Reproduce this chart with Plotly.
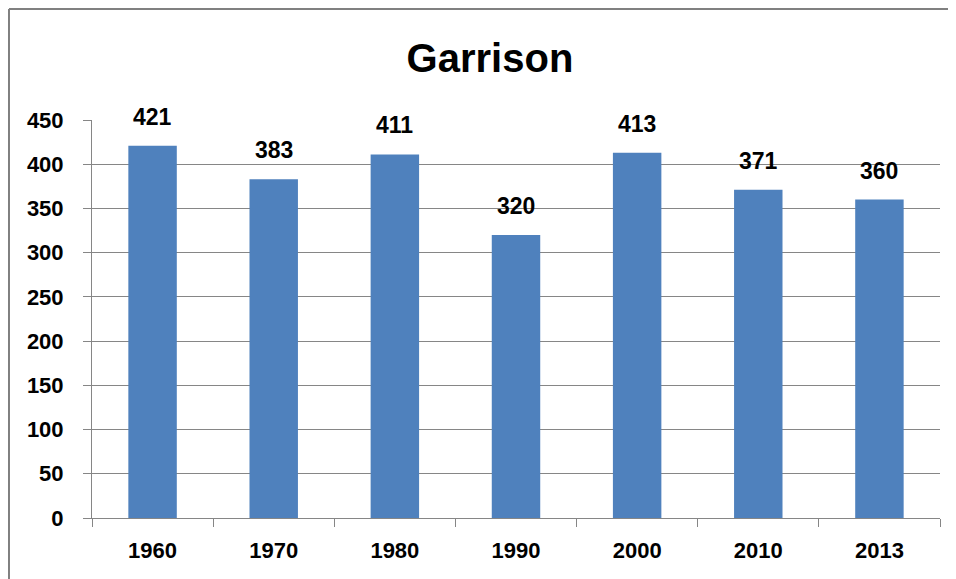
import plotly.graph_objects as go

# Garrison population by census year
years = ["1960", "1970", "1980", "1990", "2000", "2010", "2013"]
population = [421, 383, 411, 320, 413, 371, 360]
y_ticks = [0, 50, 100, 150, 200, 250, 300, 350, 400, 450]

font_name = "Liberation Sans"
grey = "#868686"

fig = go.Figure(go.Bar(x=years, y=population, marker_color="#4F81BD",
                       marker_line_width=0, hoverinfo="skip"))

# value labels above the bars (x given as category index)
for i, val in enumerate(population):
    fig.add_annotation(x=i, y=val, text=str(val), showarrow=False,
                       yanchor="middle", yshift=29,
                       font=dict(family=font_name, size=23, color="black",
                                 weight="bold"))

# chart-area border (left and top edges visible)
fig.add_shape(type="line", xref="paper", yref="paper", x0=-0.0979, x1=-0.0979,
              y0=-0.3, y1=1.279, line=dict(color="#808080", width=2))
fig.add_shape(type="line", xref="paper", yref="paper", x0=-0.0979, x1=1.2,
              y0=1.279, y1=1.279, line=dict(color="#808080", width=2))

# page body has an 8px margin, so the figure is made 8px smaller to fit the window
fig.update_layout(
    width=948, height=571,
    margin=dict(l=84, r=16, t=112, b=61),
    plot_bgcolor="white", paper_bgcolor="white",
    bargap=0.6, showlegend=False,
    title=dict(text="Garrison", x=0.5084, xanchor="center",
               y=0.9124, yanchor="middle",
               font=dict(family=font_name, size=40, color="black",
                         weight="bold")),
    font=dict(family=font_name, color="black"),
)
fig.update_xaxes(type="category", range=[-0.5, 6.5], tickson="boundaries",
                 ticks="outside", ticklen=8, tickcolor=grey, showline=True,
                 linecolor=grey, linewidth=1, showgrid=False,
                 ticklabelstandoff=13, automargin=False,
                 tickfont=dict(family=font_name, size=22, color="black",
                               weight="bold"))
fig.update_yaxes(range=[0, 450], tickvals=y_ticks, ticks="outside", ticklen=8,
                 tickcolor=grey, showline=True, linecolor=grey, linewidth=1,
                 showgrid=True, gridcolor=grey, gridwidth=1, zeroline=False,
                 ticklabelstandoff=15, automargin=False,
                 tickfont=dict(family=font_name, size=22, color="black",
                               weight="bold"))

fig.write_html("out.html")
